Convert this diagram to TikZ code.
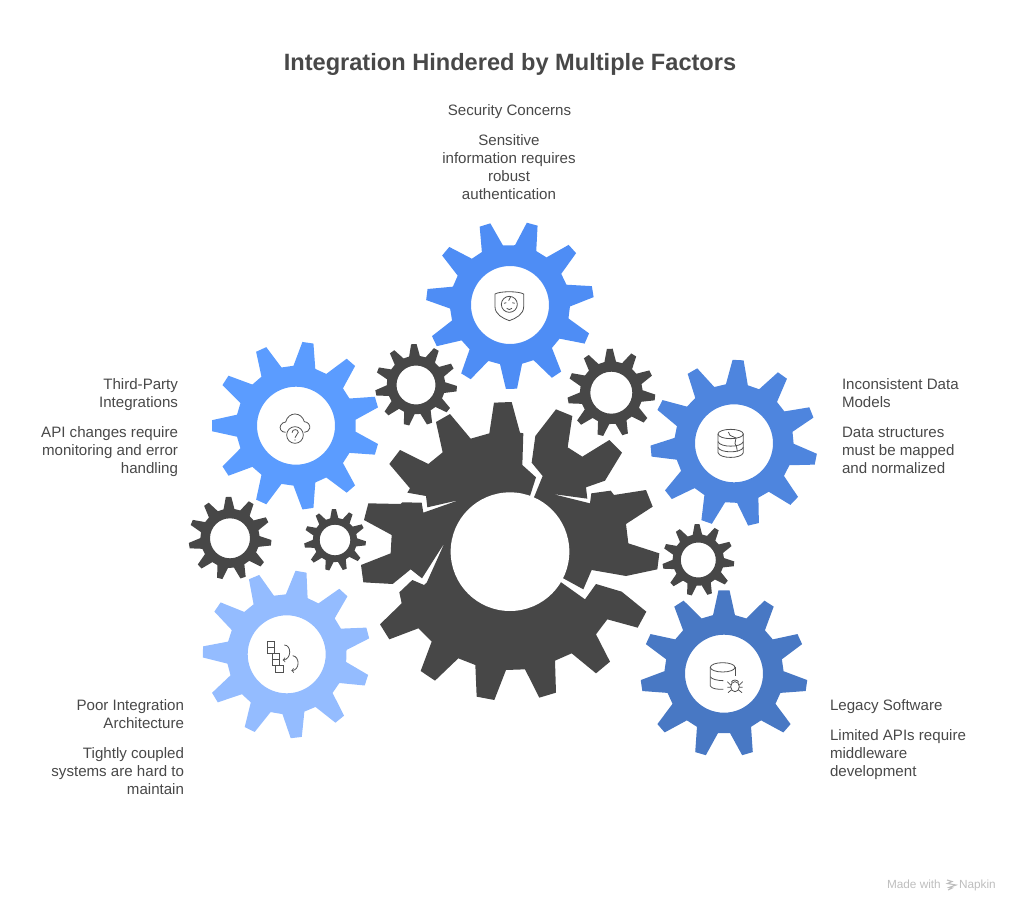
\documentclass[tikz,border=0pt]{standalone}
\usepackage{fontspec}
\setmainfont{Liberation Sans}
\newlength{\du}
\setlength{\du}{1pt}
\newcommand{\gearshape}[6]{%
\begin{scope}[shift={(#1,#2)}]
\fill[#6] ({#5-10.6}:{0.714*#3}) \foreach \k in {0,...,10} {
 -- ({#5+\k*32.727-10.6}:{0.714*#3}) -- ({#5+\k*32.727-3.8}:{#3})
 -- ({#5+\k*32.727+3.8}:{#3}) -- ({#5+\k*32.727+10.6}:{0.714*#3})
} -- cycle (0,0) circle (#4);
\end{scope}}
\begin{document}
\begin{tikzpicture}[even odd rule,x=1\du,y=-1\du,
  labeltext/.style={inner sep=0pt,outer sep=0pt,color=textcolor,font=\fontsize{15.1}{18}\selectfont},
  titletext/.style={inner sep=0pt,outer sep=0pt,color=textcolor,font=\fontsize{23.6}{28}\selectfont\bfseries},
  marktext/.style={inner sep=0pt,outer sep=0pt,color=markcolor,font=\fontsize{11.8}{14}\selectfont},
  iconline/.style={draw=iconcolor,line width=0.8\du,fill=none}]
\definecolor{textcolor}{RGB}{72,72,72}
\definecolor{markcolor}{RGB}{190,190,190}
\definecolor{iconcolor}{RGB}{80,80,80}
\definecolor{darkgear}{RGB}{71,71,71}
\definecolor{securityblue}{RGB}{78,141,245}
\definecolor{thirdblue}{RGB}{91,156,255}
\definecolor{datablue}{RGB}{78,133,222}
\definecolor{legacyblue}{RGB}{72,120,196}
\definecolor{poorblue}{RGB}{148,188,255}
\useasboundingbox (0,0) rectangle (1020,912);
% small gears
\gearshape{416}{385}{41}{19.5}{267}{darkgear}
\gearshape{611.3}{392.7}{44}{21}{268}{darkgear}
\gearshape{230}{538.3}{41.5}{20}{268}{darkgear}
\gearshape{335}{540}{31}{15.3}{268}{darkgear}
\gearshape{698.3}{560}{36}{17.5}{268}{darkgear}
% factor gears
\gearshape{510}{305}{84}{39}{89}{securityblue}
\gearshape{296}{425.7}{84}{39}{180}{thirdblue}
\gearshape{734}{443.3}{83.5}{39}{11}{datablue}
\gearshape{286.7}{654.3}{84}{39}{18}{poorblue}
\gearshape{724}{673.7}{83.5}{39}{270}{legacyblue}
% broken centre gear
\begin{scope}[shift={(350,390)},scale=0.33333]
\fill[darkgear] (480,485)--(540,318)--(558,262)--(517,225)--(520,130)--(510,128)--(485,36)--(432,38)--(418,130)--(362,146)--(300,72)--(258,96)--(278,187)--(235,222)--(150,180)--(118,222)--(180,295)--(172,308)--(228,318)--(232,352)--(328,330)--(220,368)--(215,338)--(157,337)--(152,342)--(55,340)--(42,390)--(125,435)--(122,490)--(33,525)--(40,577)--(128,582)--(182,538)--(216,565)--(284,458)--(230,578)--(222,585)--(187,570)--(148,607)--(155,640)--(90,703)--(118,748)--(205,715)--(245,755)--(212,843)--(255,872)--(325,805)--(376,825)--(380,920)--(433,930)--(468,840)--(525,838)--(568,923)--(618,908)--(615,812)--(665,790)--(738,850)--(780,815)--(738,733)--(772,688)--(863,713)--(889,665)--(815,605)--(738,582)--(705,628)--(635,578)--cycle;
\fill[darkgear] (480,485)--(552,322)--(578,258)--(545,218)--(556,138)--(618,58)--(667,78)--(653,172)--(697,200)--(778,150)--(816,188)--(765,272)--(708,292)--(712,326)--(608,312)--(720,340)--(724,310)--(782,302)--(792,315)--(888,300)--(908,350)--(828,402)--(835,460)--(928,490)--(922,538)--(828,558)--(725,540)--(700,598)--(640,565)--cycle;
\fill[white] (480,485) circle (178);
\end{scope}
% shield icon
\begin{scope}[shift={(480,275)},scale=0.33333]
\draw[iconline] (45,57) .. controls (60,48) and (115,48) .. (131,57) -- (131,95) .. controls (131,118) and (108,130) .. (88,137) .. controls (68,130) and (45,118) .. (45,95) -- cycle;
\draw[iconline] (88,88) circle (24);
\draw[iconline] (72,85) -- (79,83) (97,83) -- (104,85) (80,100) .. controls (84,105) and (92,105) .. (96,100) (92,65) -- (86,77);
\end{scope}
% cloud icon
\begin{scope}[shift={(265,400)},scale=0.33333]
\draw[iconline] (62,97) .. controls (48,97) and (42,85) .. (47,76) .. controls (50,70) and (56,66) .. (62,66) .. controls (66,50) and (78,42) .. (90,42) .. controls (104,42) and (114,52) .. (118,65) .. controls (130,66) and (136,76) .. (134,85) .. controls (132,92) and (126,97) .. (118,97);
\draw[iconline] (90,105) circle (25);
\draw[iconline] (81,98) .. controls (82,86) and (99,86) .. (100,97) .. controls (100,105) and (90,104) .. (90,113);
\fill[iconcolor] (90,120) circle (2.2);
\end{scope}
% database icon
\begin{scope}[shift={(700,410)},scale=0.33333]
\draw[iconline] (92,72) ellipse (38 and 14);
\draw[iconline] (54,72) -- (54,128) .. controls (60,147) and (124,147) .. (130,128) -- (130,72);
\draw[iconline] (54,95) .. controls (60,113) and (124,113) .. (130,95);
\draw[iconline] (54,112) .. controls (60,130) and (124,130) .. (130,112);
\draw[iconline] (85,66) -- (90,76) -- (108,84) -- (105,100) -- (110,112) -- (112,125);
\end{scope}
% database and bug icon
\begin{scope}[shift={(690,650)},scale=0.33333]
\draw[iconline] (98,52) ellipse (37 and 14);
\draw[iconline] (135,52) -- (135,78);
\draw[iconline] (61,52) -- (61,108) .. controls (64,116) and (85,119) .. (100,118);
\draw[iconline] (61,80) .. controls (64,88) and (85,92) .. (100,92);
\draw[iconline] (135,110) ellipse (13 and 15);
\draw[iconline] (124,97) .. controls (126,88) and (144,88) .. (146,97);
\draw[iconline] (122,105) -- (112,95) (148,105) -- (158,95) (122,112) -- (112,112) (148,112) -- (158,112) (124,120) -- (114,128) (146,120) -- (156,128);
\end{scope}
% flow icon
\begin{scope}[shift={(240,610)},scale=0.33333]
\draw[iconline] (83,95) rectangle (104,131) (83,113) -- (104,113);
\draw[iconline] (98,131) rectangle (118,167) (98,149) -- (118,149);
\draw[iconline] (107,167) rectangle (129,186);
\draw[iconline,->] (133,105) .. controls (155,105) and (155,148) .. (128,150);
\draw[iconline,->] (158,137) .. controls (180,140) and (180,180) .. (154,182);
\end{scope}
% title
\node[titletext,anchor=base] (title) at (510,71) {Integration Hindered by Multiple Factors};
% security
\node[labeltext,anchor=base] (sechead) at (509.5,116) {Security Concerns};
\node[labeltext,anchor=base] (secone) at (509,146) {Sensitive};
\node[labeltext,anchor=base] (sectwo) at (509,164) {information requires};
\node[labeltext,anchor=base] (secthree) at (509,182) {robust};
\node[labeltext,anchor=base] (secfour) at (509,200) {authentication};
% third party
\node[labeltext,anchor=base east] (thirdhead) at (178,389) {Third-Party};
\node[labeltext,anchor=base east] (thirdheadb) at (178,407) {Integrations};
\node[labeltext,anchor=base east] (thirdone) at (178,437) {API changes require};
\node[labeltext,anchor=base east] (thirdtwo) at (178,455) {monitoring and error};
\node[labeltext,anchor=base east] (thirdthree) at (178,473) {handling};
% data models
\node[labeltext,anchor=base west] (datahead) at (842,389) {Inconsistent Data};
\node[labeltext,anchor=base west] (dataheadb) at (842,407) {Models};
\node[labeltext,anchor=base west] (dataone) at (842,437) {Data structures};
\node[labeltext,anchor=base west] (datatwo) at (842,455) {must be mapped};
\node[labeltext,anchor=base west] (datathree) at (842,473) {and normalized};
% architecture
\node[labeltext,anchor=base east] (poorhead) at (184,710) {Poor Integration};
\node[labeltext,anchor=base east] (poorheadb) at (184,728) {Architecture};
\node[labeltext,anchor=base east] (poorone) at (184,758) {Tightly coupled};
\node[labeltext,anchor=base east] (poortwo) at (184,776) {systems are hard to};
\node[labeltext,anchor=base east] (poorthree) at (184,794) {maintain};
% legacy
\node[labeltext,anchor=base west] (legacyhead) at (830,710) {Legacy Software};
\node[labeltext,anchor=base west] (legacyone) at (830,740) {Limited APIs require};
\node[labeltext,anchor=base west] (legacytwo) at (830,758) {middleware};
\node[labeltext,anchor=base west] (legacythree) at (830,776) {development};
% made with
\node[marktext,anchor=base west] (madewith) at (887,888) {Made with};
\node[marktext,anchor=base west] (napkin) at (959,888) {Napkin};
\draw[draw=markcolor,line width=1.1\du] (947,880) -- (952,881.5) -- (947.5,883.5) -- (956,885) -- (949,887.5) -- (952,888) -- (948,890);
\end{tikzpicture}
\end{document}
